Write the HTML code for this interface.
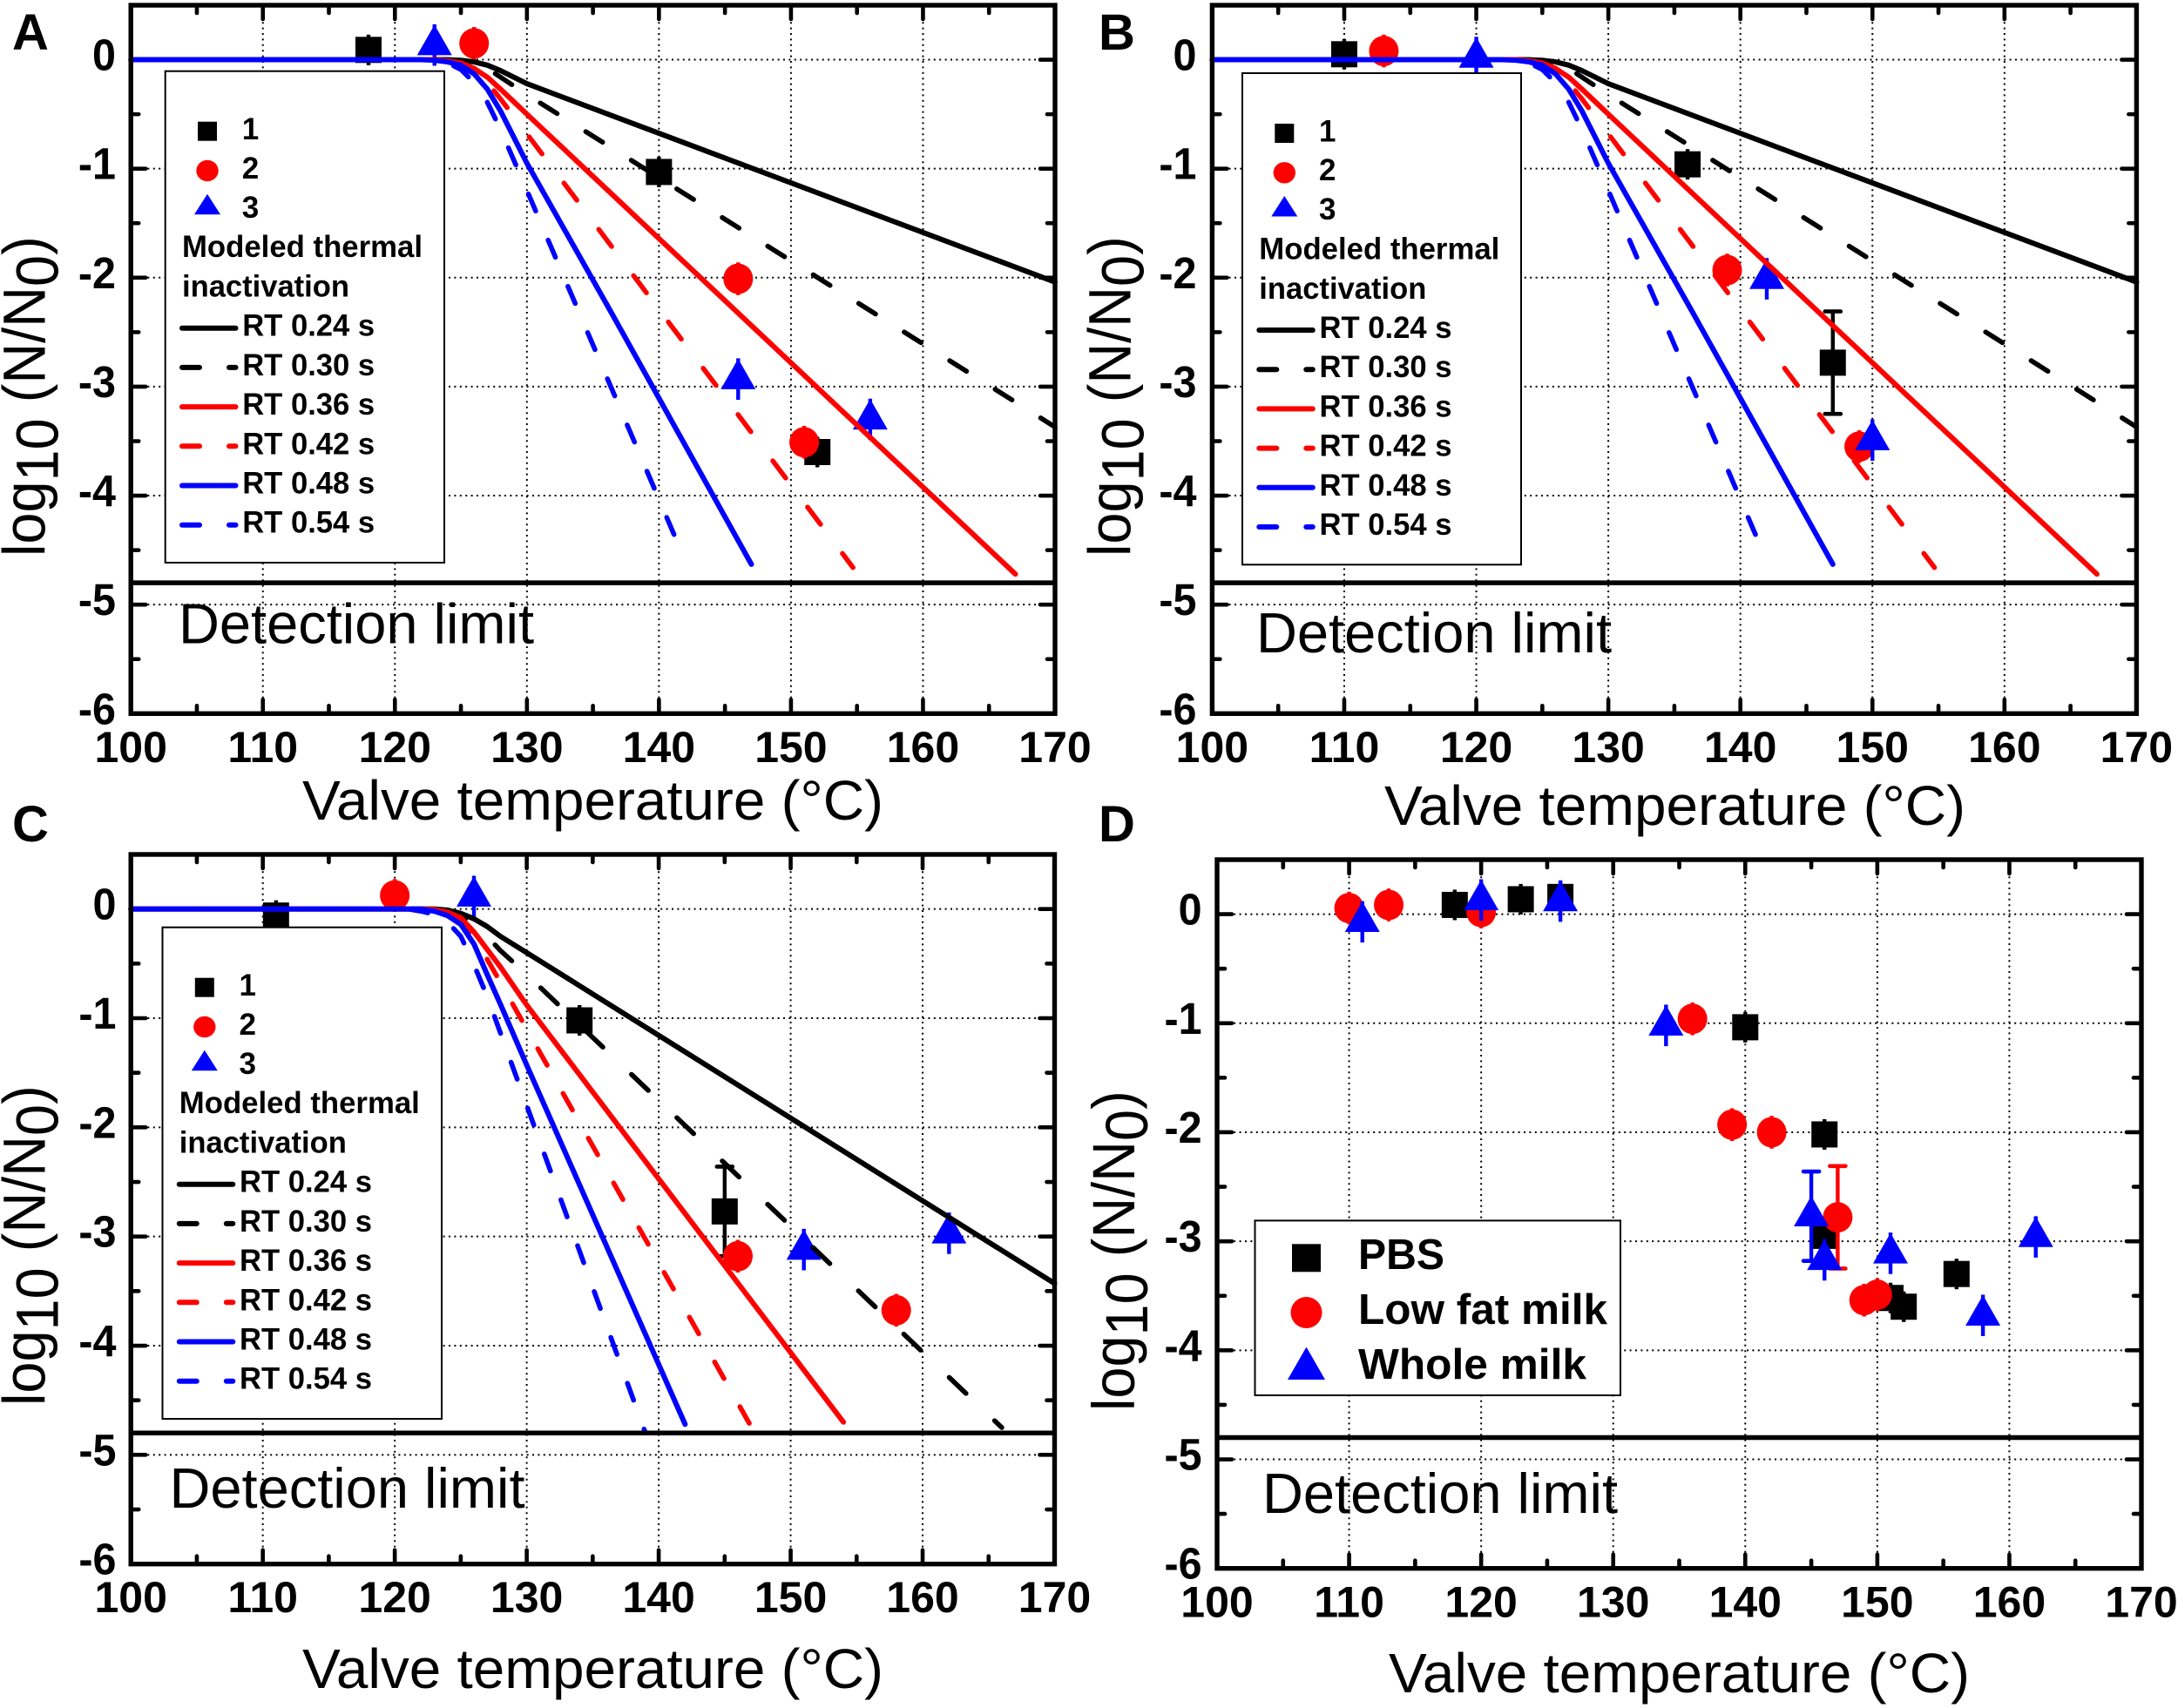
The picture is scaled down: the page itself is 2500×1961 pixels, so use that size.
<!DOCTYPE html>
<html lang="en">
<head>
<meta charset="utf-8">
<title>Thermal inactivation vs valve temperature</title>
<style>
html,body{margin:0;padding:0;background:#fff;}
svg{display:block;font-family:"Liberation Sans",Arial,sans-serif;}
</style>
</head>
<body>
<svg id="figure" xmlns="http://www.w3.org/2000/svg" width="2500" height="1961" viewBox="0 0 2500 1961"></svg>
<script>
// ---- axis values ----
const xTickLabels = [100,110,120,130,140,150,160,170];
const yTickLabels = [0,-1,-2,-3,-4,-5,-6];
const xMajorTicks = [110,120,130,140,150,160];
const xMinorTicks = [105,115,125,135,145,155,165];
const yMajorTicks = [0,-1,-2,-3,-4,-5];
const yMinorTicks = [-0.5,-1.5,-2.5,-3.5,-4.5,-5.5];
const detectionLimit = -4.8;

// ---- modeled curves, panels A and B ----
const rt024Temps = [100,124,125,126,127,128,129,130,170];
const rt024Logs  = [0,0,-0.005,-0.02,-0.05,-0.1,-0.16,-0.22,-2.04];
const rt030Temps = [100,124,125,126,127,128,129,130,170];
const rt030Logs  = [0,0,-0.01,-0.03,-0.08,-0.16,-0.24,-0.32,-3.37];
const rt036Temps = [100,123,124,125,126,127,128,130,167];
const rt036Logs  = [0,0,-0.01,-0.03,-0.08,-0.16,-0.27,-0.5,-4.72];
const rt042Temps = [100,123,124,125,126,127,128,130,154.7];
const rt042Logs  = [0,0,-0.01,-0.04,-0.1,-0.21,-0.36,-0.68,-4.66];
const rt048Temps = [100,122,123,124,125,126,127,128,129,130,136.3,147];
const rt048Logs  = [0,0,-0.005,-0.02,-0.05,-0.13,-0.27,-0.47,-0.71,-0.95,-2.3,-4.63];
const rt054Temps = [100,122,123,124,125,126,127,128,130,142];
const rt054Logs  = [0,0,-0.01,-0.03,-0.09,-0.21,-0.39,-0.64,-1.2,-4.6];

// ---- modeled curves, panel C ----
const rt024TempsC = [100,123,124,125,126,127,128,130,170];
const rt024LogsC  = [0,0,-0.01,-0.04,-0.09,-0.16,-0.25,-0.4,-3.43];
const rt030TempsC = [100,123,124,125,126,127,128,130,166];
const rt030LogsC  = [0,0,-0.02,-0.06,-0.14,-0.25,-0.38,-0.6,-4.75];
const rt036TempsC = [100,122,123,124,125,126,127,128,130,154];
const rt036LogsC  = [0,0,-0.005,-0.03,-0.08,-0.21,-0.37,-0.53,-0.88,-4.7];
const rt042TempsC = [100,122,123,124,125,126,127,128,130,147];
const rt042LogsC  = [0,0,-0.01,-0.04,-0.11,-0.26,-0.46,-0.67,-1.1,-4.74];
const rt048TempsC = [100,122,123,124,125,126,127,128,130,142];
const rt048LogsC  = [0,0,-0.02,-0.06,-0.14,-0.32,-0.6,-0.87,-1.43,-4.72];
const rt054TempsC = [100,121,122,123,124,125,126,127,130,139];
const rt054LogsC  = [0,0,-0.02,-0.05,-0.12,-0.25,-0.51,-0.8,-1.8,-4.8];

// ---- measured points ----
const a1Temps=[118,140,152]; const a1Logs=[0.09,-1.03,-3.6];  const a1Errs=[0.14,0.14,0.14];
const a2Temps=[126,146,151]; const a2Logs=[0.15,-2.01,-3.51]; const a2Errs=[0.15,0.15,0.15];
const a3Temps=[123,146,156]; const a3Logs=[0.135,-2.93,-3.3]; const a3Errs=[0.19,0.19,0.19];

const b1Temps=[110,136,147]; const b1Logs=[0.05,-0.96,-2.78]; const b1Errs=[0.14,0.14,0.47];
const b2Temps=[113,139,149]; const b2Logs=[0.08,-1.93,-3.55]; const b2Errs=[0.15,0.15,0.15];
const b3Temps=[120,142,150]; const b3Logs=[0.02,-2.01,-3.49]; const b3Errs=[0.19,0.19,0.19];

const c1Temps=[111,134,145]; const c1Logs=[-0.06,-1.02,-2.77]; const c1Errs=[0.14,0.14,0.41];
const c2Temps=[120,146,158]; const c2Logs=[0.125,-3.18,-3.675]; const c2Errs=[0.15,0.15,0.15];
const c3Temps=[126,151,162]; const c3Logs=[0.115,-3.12,-2.97]; const c3Errs=[0.19,0.19,0.19];

const pbsTemps=[118,123,126,140,146,146,151,152,156];
const pbsLogs =[0.085,0.137,0.158,-1.037,-2.02,-2.95,-3.52,-3.6,-3.3];
const pbsErrs =[0.14,0.14,0.14,0.14,0.14,0.14,0.14,0.14,0.14];
const lowFatTemps=[110,113,120,136,139,142,147,149,150];
const lowFatLogs =[0.056,0.085,0.02,-0.96,-1.93,-2.0,-2.78,-3.54,-3.49];
const lowFatErrs =[0.15,0.15,0.15,0.15,0.15,0.15,0.47,0.15,0.15];
const wholeTemps=[111,120,126,134,145,146,151,158,162];
const wholeLogs =[-0.07,0.13,0.12,-1.02,-2.77,-3.17,-3.11,-3.68,-2.96];
const wholeErrs =[0.19,0.19,0.19,0.19,0.41,0.19,0.19,0.19,0.19];

// ---- printed legend text ----
const markerLegendLabels = ['1','2','3'];
const rtLegendLabels = ['RT 0.24 s','RT 0.30 s','RT 0.36 s','RT 0.42 s','RT 0.48 s','RT 0.54 s'];
const milkLegendLabels = ['PBS','Low fat milk','Whole milk'];

// ---- styling / layout (not data) ----
const BLACK='#000000', RED='#ff0000', BLUE='#0000ff';
const curvesAB = [
 {n:'rt-024',t:rt024Temps,v:rt024Logs,c:BLACK},
 {n:'rt-030',t:rt030Temps,v:rt030Logs,c:BLACK,period:61.7,phase:127.6},
 {n:'rt-036',t:rt036Temps,v:rt036Logs,c:RED},
 {n:'rt-042',t:rt042Temps,v:rt042Logs,c:RED,period:66.5,phase:127.5},
 {n:'rt-048',t:rt048Temps,v:rt048Logs,c:BLUE},
 {n:'rt-054',t:rt054Temps,v:rt054Logs,c:BLUE,period:57.7,phase:127}
];
const curvesC = [
 {n:'rt-024',t:rt024TempsC,v:rt024LogsC,c:BLACK},
 {n:'rt-030',t:rt030TempsC,v:rt030LogsC,c:BLACK,period:72,phase:127.6},
 {n:'rt-036',t:rt036TempsC,v:rt036LogsC,c:RED},
 {n:'rt-042',t:rt042TempsC,v:rt042LogsC,c:RED,period:59,phase:127},
 {n:'rt-048',t:rt048TempsC,v:rt048LogsC,c:BLUE},
 {n:'rt-054',t:rt054TempsC,v:rt054LogsC,c:BLUE,period:56,phase:126.2}
];
const panels = [
 {id:'a',letter:'A',lx:14,ly:57,left:150.2,right:1211,top:6,bottom:819.3,
  yLabelRight:133,xLabelBase:875,
  xTitle:[347,941],yTitle:[51.5,639],det:[205,738.3],legend:[189.7,81.7,320.3,564.3],
  curves:curvesAB,
  pts:[{k:'square',c:BLACK,t:a1Temps,v:a1Logs,e:a1Errs},{k:'circle',c:RED,t:a2Temps,v:a2Logs,e:a2Errs},{k:'triangle',c:BLUE,t:a3Temps,v:a3Logs,e:a3Errs}]},
 {id:'b',letter:'B',lx:1261,ly:57,left:1391.4,right:2452.4,top:6,bottom:819.3,
  yLabelRight:1373.4,xLabelBase:875,
  xTitle:[1589,947],yTitle:[1297.5,639],det:[1442,749],legend:[1426,84,320,564.3],
  curves:curvesAB,
  pts:[{k:'square',c:BLACK,t:b1Temps,v:b1Logs,e:b1Errs},{k:'circle',c:RED,t:b2Temps,v:b2Logs,e:b2Errs},{k:'triangle',c:BLUE,t:b3Temps,v:b3Logs,e:b3Errs}]},
 {id:'c',letter:'C',lx:14,ly:966,left:150.2,right:1210.5,top:981,bottom:1795.7,
  yLabelRight:133.5,xLabelBase:1851,
  xTitle:[347,1938],yTitle:[51.5,1614],det:[194.5,1731],legend:[186.5,1064.7,320.5,564.3],
  curves:curvesC,
  pts:[{k:'square',c:BLACK,t:c1Temps,v:c1Logs,e:c1Errs},{k:'circle',c:RED,t:c2Temps,v:c2Logs,e:c2Errs},{k:'triangle',c:BLUE,t:c3Temps,v:c3Logs,e:c3Errs}]},
 {id:'d',letter:'D',lx:1261,ly:966,left:1397,right:2458,top:987,bottom:1800.7,
  yLabelRight:1379.6,xLabelBase:1856.7,
  xTitle:[1594,1943],yTitle:[1302,1620],det:[1449,1737],legend:null,
  curves:[],
  pts:[{k:'square',c:BLACK,t:pbsTemps,v:pbsLogs,e:pbsErrs},{k:'circle',c:RED,t:lowFatTemps,v:lowFatLogs,e:lowFatErrs},{k:'triangle',c:BLUE,t:wholeTemps,v:wholeLogs,e:wholeErrs}]}
];

const NS='http://www.w3.org/2000/svg';
const root=document.getElementById('figure');
function mk(tag,attrs,parent,text){
  const el=document.createElementNS(NS,tag);
  for(const k in attrs){el.setAttribute(k,attrs[k]);}
  if(text!==undefined){el.textContent=text;}
  parent.appendChild(el);
  return el;
}
function drawSquare(parent,x,y,w,h,c){
  return mk('rect',{x:x-w/2,y:y-h/2,width:w,height:h,fill:c},parent);
}
function drawCircle(parent,x,y,w,h,c){
  return mk('ellipse',{cx:x,cy:y,rx:w/2,ry:h/2,fill:c},parent);
}
function drawTriangle(parent,x,y,w,h,c){
  const up=h*2/3,dn=h/3;
  return mk('polygon',{points:(x-w/2)+','+(y+dn)+' '+x+','+(y-up)+' '+(x+w/2)+','+(y+dn),fill:c},parent);
}
function drawMarker(kind,parent,x,y,c,scale){
  if(kind==='square'){return drawSquare(parent,x,y,30*scale,30*scale,c);}
  if(kind==='circle'){return drawCircle(parent,x,y,34*scale,35*scale,c);}
  return drawTriangle(parent,x,y,40*scale,35*scale,c);
}

panels.forEach(function(p){
  const sx=function(t){return p.left+(t-100)*(p.right-p.left)/70;};
  const sy=function(v){return p.top+(0.5-v)*(p.bottom-p.top)/6.5;};

  const g=mk('g',{},root);
  
  

  const letter=mk('text',{x:p.lx,y:p.ly,'font-size':58,'font-weight':'bold',fill:BLACK},g,p.letter);
  
  

  // grid
  const grid=mk('g',{stroke:BLACK,'stroke-width':2,'stroke-dasharray':'2 4.4',fill:'none'},g);
  
  
  xMajorTicks.forEach(function(t){
    const l=mk('line',{x1:sx(t),x2:sx(t),y1:p.top,y2:p.bottom},grid);
    
    
  });
  yMajorTicks.forEach(function(v){
    const l=mk('line',{x1:p.left,x2:p.right,y1:sy(v),y2:sy(v)},grid);
    
    
  });

  // ticks (under the curves so the flat blue line covers the tick at 0)
  const ticks=mk('g',{stroke:BLACK,'stroke-width':4.6,'stroke-linecap':'round'},g);
  
  
  function xTick(t,len){
    const a=mk('line',{x1:sx(t),x2:sx(t),y1:p.bottom,y2:p.bottom-len},ticks);
    
    
    const b=mk('line',{x1:sx(t),x2:sx(t),y1:p.top,y2:p.top+len},ticks);
    
    
  }
  function yTick(v,len){
    const a=mk('line',{x1:p.left,x2:p.left+len,y1:sy(v),y2:sy(v)},ticks);
    
    
    const b=mk('line',{x1:p.right,x2:p.right-len,y1:sy(v),y2:sy(v)},ticks);
    
    
  }
  xMajorTicks.forEach(function(t){xTick(t,16);});
  xMinorTicks.forEach(function(t){xTick(t,9);});
  yMajorTicks.forEach(function(v){yTick(v,17);});
  yMinorTicks.forEach(function(v){yTick(v,9);});

  // measured points
  const ptsG=mk('g',{},g);
  
  
  p.pts.forEach(function(s){
    s.t.forEach(function(t,i){
      const x=sx(t),y=sy(s.v[i]);
      const m=drawMarker(s.k,ptsG,x,y,s.c,1);
      
      
      const bar=mk('line',{x1:x,x2:x,y1:sy(s.v[i]+s.e[i]),y2:sy(s.v[i]-s.e[i]),stroke:s.c,'stroke-width':4.4,'stroke-linecap':'butt'},ptsG);
      
      
      if(s.e[i]>0.3){
        [s.v[i]+s.e[i],s.v[i]-s.e[i]].forEach(function(cv){
          const cap=mk('line',{x1:x-9,x2:x+9,y1:sy(cv),y2:sy(cv),stroke:s.c,'stroke-width':4.6,'stroke-linecap':'round'},ptsG);
          
          
        });
      }
    });
  });

  // modeled curves
  p.curves.forEach(function(c){
    const pts=c.t.map(function(t,i){return sx(t)+','+sy(c.v[i]);}).join(' ');
    const attrs={points:pts,fill:'none',stroke:c.c,'stroke-width':c.period?5.6:6,'stroke-linecap':'round','stroke-linejoin':'round'};
    if(c.period){
      attrs['stroke-dasharray']=(c.period*0.37)+' '+(c.period*0.63);
      let len=0;
      for(let i=1;i<c.t.length;i++){
        const t0=c.t[i-1],t1=Math.min(c.t[i],c.phase);
        if(t1<=t0){break;}
        const f=(t1-t0)/(c.t[i]-t0);
        const dx=(sx(c.t[i])-sx(t0))*f,dy=(sy(c.v[i])-sy(c.v[i-1]))*f;
        len+=Math.sqrt(dx*dx+dy*dy);
      }
      attrs['stroke-dashoffset']=-len;
    }
    const line=mk('polyline',attrs,g);
    
    
  });

  // detection limit
  const det=mk('line',{x1:p.left,x2:p.right,y1:sy(detectionLimit),y2:sy(detectionLimit),stroke:BLACK,'stroke-width':5.5},g);
  
  
  const detT=mk('text',{x:p.det[0],y:p.det[1],'font-size':65,fill:BLACK,textLength:408,lengthAdjust:'spacingAndGlyphs'},g,'Detection limit');
  
  

  // frame
  const spine=mk('rect',{x:p.left,y:p.top,width:p.right-p.left,height:p.bottom-p.top,fill:'none',stroke:BLACK,'stroke-width':5.4},g);
  
  

  // tick labels
  xTickLabels.forEach(function(t){
    const l=mk('text',{x:sx(t),y:p.xLabelBase,'font-size':50,'font-weight':'bold','text-anchor':'middle',fill:BLACK},g,String(t));
    
    
  });
  yTickLabels.forEach(function(v){
    const l=mk('text',{transform:'translate('+p.yLabelRight+','+(sy(v)+12)+') scale(0.95,1)','font-size':51,'font-weight':'bold','text-anchor':'end',fill:BLACK},g,String(v));
    
    
  });

  // axis titles
  const xt=mk('text',{x:p.xTitle[0],y:p.xTitle[1],'font-size':64,fill:BLACK,textLength:667,lengthAdjust:'spacingAndGlyphs'},g,'Valve temperature (°C)');
  
  
  const yt=mk('text',{transform:'translate('+p.yTitle[0]+','+p.yTitle[1]+') rotate(-90) scale(0.94,1)','font-size':69,fill:BLACK,style:'white-space:pre'},g);
  
  
  mk('tspan',{},yt,'log');
  mk('tspan',{dy:15},yt,'10');
  mk('tspan',{dy:-15},yt,' (N/N');
  mk('tspan',{dy:15},yt,'0');
  mk('tspan',{dy:-15},yt,')');

  // legend with modeled RT lines (A, B, C)
  if(p.legend){
    const L=p.legend;
    const lg=mk('g',{},g);
    
    
    const box=mk('rect',{x:L[0],y:L[1],width:L[2],height:L[3],fill:'#ffffff',stroke:BLACK,'stroke-width':2},lg);
    
    
    const kinds=[['square',BLACK,69,drawSquare,22,22],['circle',RED,114.3,drawCircle,25.4,24.4],['triangle',BLUE,156.7,drawTriangle,30,23.5]];
    kinds.forEach(function(k,i){
      const mx=L[0]+48.3,my=L[1]+k[2];
      const m=k[3](lg,mx,my,k[4],k[5],k[1]);
      
      
      const tx=mk('text',{x:L[0]+88,y:L[1]+78.3+i*44.9,'font-size':35,'font-weight':'bold',fill:BLACK},lg,markerLegendLabels[i]);
      
      
    });
    const h1=mk('text',{x:L[0]+19.3,y:L[1]+213.3,'font-size':35,'font-weight':'bold',fill:BLACK,textLength:276,lengthAdjust:'spacingAndGlyphs'},lg,'Modeled thermal');
    
    
    const h2=mk('text',{x:L[0]+19.3,y:L[1]+259,'font-size':35,'font-weight':'bold',fill:BLACK,textLength:192,lengthAdjust:'spacingAndGlyphs'},lg,'inactivation');
    
    
    const styles=[[BLACK,false],[BLACK,true],[RED,false],[RED,true],[BLUE,false],[BLUE,true]];
    rtLegendLabels.forEach(function(label,i){
      const ly=L[1]+295+i*45.2;
      const x0=L[0]+19.3,x1=L[0]+80.8;
      const attrs={x1:x0,x2:x1,y1:ly,y2:ly,stroke:styles[i][0],'stroke-width':6,'stroke-linecap':'round'};
      if(styles[i][1]){attrs['stroke-dasharray']='20 34';}
      const s=mk('line',attrs,lg);
      
      
      const tx=mk('text',{x:L[0]+88.5,y:L[1]+304+i*45.2,'font-size':35,'font-weight':'bold',fill:BLACK,textLength:152,lengthAdjust:'spacingAndGlyphs'},lg,label);
      
      
    });
  } else {
    // milk legend (D)
    const lg=mk('g',{},g);
    
    
    const box=mk('rect',{x:1440.5,y:1401.4,width:419.5,height:200.6,fill:'#ffffff',stroke:BLACK,'stroke-width':2},lg);
    
    
    const a=drawSquare(lg,1499.5,1444.3,33,32,BLACK);
    
    
    const b=drawCircle(lg,1499.5,1507,36,36,RED);
    
    
    const c=drawTriangle(lg,1499.5,1571.5,43,37.5,BLUE);
    
    
    const bases=[1456.8,1520,1583];
    const widths=[99,286,262];
    milkLegendLabels.forEach(function(label,i){
      const tx=mk('text',{x:1559,y:bases[i],'font-size':49,'font-weight':'bold',fill:BLACK,textLength:widths[i],lengthAdjust:'spacingAndGlyphs'},lg,label);
      
      
    });
  }
});
</script>
</body>
</html>
